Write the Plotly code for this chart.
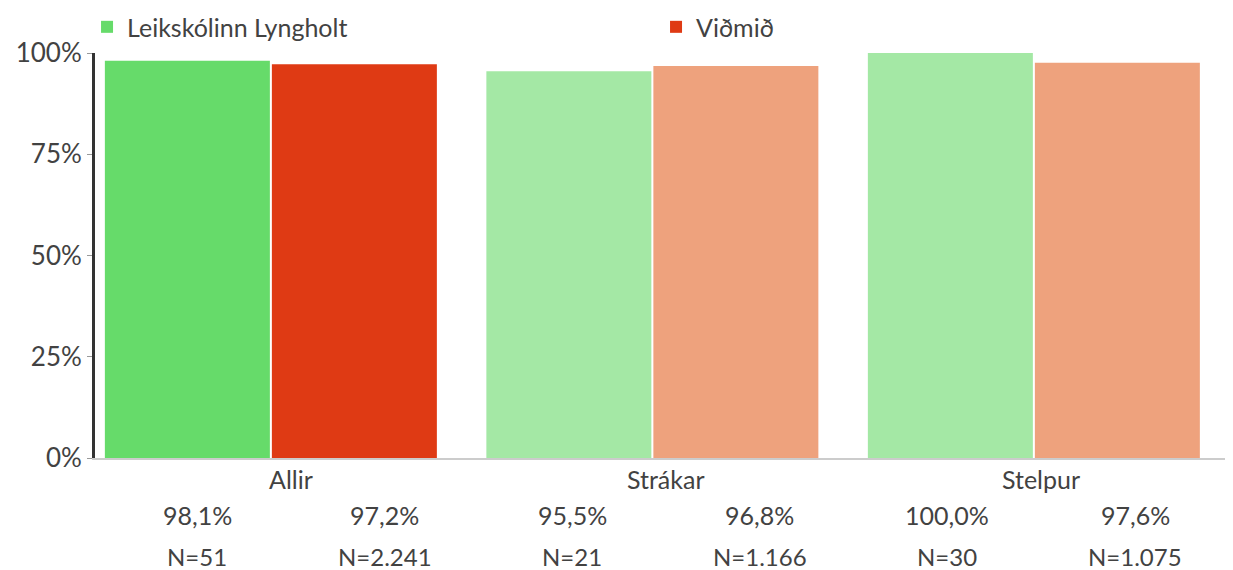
import plotly.graph_objects as go

categories = ["Allir", "Strákar", "Stelpur"]
series_names = ["Leikskólinn Lyngholt", "Viðmið"]
school_values = [98.1, 95.5, 100.0]
ref_values = [97.2, 96.8, 97.6]
school_n = [51, 21, 30]
ref_n = [2241, 1166, 1075]
school_colors = ["#66DB6A", "#A4E8A5", "#A4E8A5"]
ref_colors = ["#DF3A14", "#EEA27D", "#EEA27D"]
y_ticks = [0, 25, 50, 75, 100]

FONT = "Lato"
TXT = "#424242"


def pct(v):
    return f"{v:.1f}".replace(".", ",") + "%"


def nfmt(n):
    return "N=" + f"{n:,}".replace(",", ".")


x = list(range(len(categories)))
fig = go.Figure()
fig.add_trace(go.Bar(x=x, y=school_values, name=series_names[0],
                     marker=dict(color=school_colors, line=dict(width=0)),
                     hoverinfo="skip"))
fig.add_trace(go.Bar(x=x, y=ref_values, name=series_names[1],
                     marker=dict(color=ref_colors, line=dict(width=0)),
                     hoverinfo="skip"))

# bottom labels (evenly spaced sub-columns), positions in window pixels
L, W = 95, 1138
col0, pitch = 197, 187.6
annotations = []
for i, cat in enumerate(categories):
    c1 = col0 + pitch * (2 * i)
    c2 = col0 + pitch * (2 * i + 1)
    annotations.append(dict(x=((c1 + c2) / 2 - L) / W, y=-0.052, xref="paper", yref="paper",
                            text=cat, showarrow=False, xanchor="center", yanchor="middle",
                            font=dict(family=FONT, size=25, color=TXT)))
    for c, v, n in [(c1, school_values[i], school_n[i]), (c2, ref_values[i], ref_n[i])]:
        annotations.append(dict(x=(c - L) / W, y=-0.14, xref="paper", yref="paper",
                                text=pct(v), showarrow=False, xanchor="center", yanchor="middle",
                                font=dict(family=FONT, size=25, color=TXT)))
        annotations.append(dict(x=(c - L) / W, y=-0.242, xref="paper", yref="paper",
                                text=nfmt(n), showarrow=False, xanchor="center", yanchor="middle",
                                font=dict(family=FONT, size=24, color=TXT)))

# page body has an 8px margin, so the figure is shifted by 8px
fig.update_layout(
    width=1225, height=562,
    margin=dict(l=87, r=0, t=45, b=112, autoexpand=False),
    paper_bgcolor="white", plot_bgcolor="white",
    barmode="group", bargap=0.1245, bargroupgap=0.012,
    font=dict(family=FONT, size=22, color=TXT),
    showlegend=True,
    legend=dict(orientation="h", x=-0.007, xanchor="left", y=1.064, yanchor="middle",
                entrywidth=524, entrywidthmode="pixels",
                font=dict(family=FONT, size=25, color=TXT), bgcolor="rgba(0,0,0,0)"),
    xaxis=dict(range=[-0.461, 2.522], showticklabels=False, ticks="",
               showline=True, linecolor="#cccccc", linewidth=2, showgrid=False,
               zeroline=False, fixedrange=True),
    yaxis=dict(range=[0, 100], tickvals=y_ticks, ticktext=[f"{t}%" for t in y_ticks],
               ticks="outside", ticklen=5, tickcolor="#999999", tickwidth=1,
               showline=True, linecolor="#333333", linewidth=3, showgrid=False,
               zeroline=False, tickfont=dict(family=FONT, size=26, color=TXT),
               fixedrange=True),
    annotations=annotations,
)

fig.write_html("out.html")
